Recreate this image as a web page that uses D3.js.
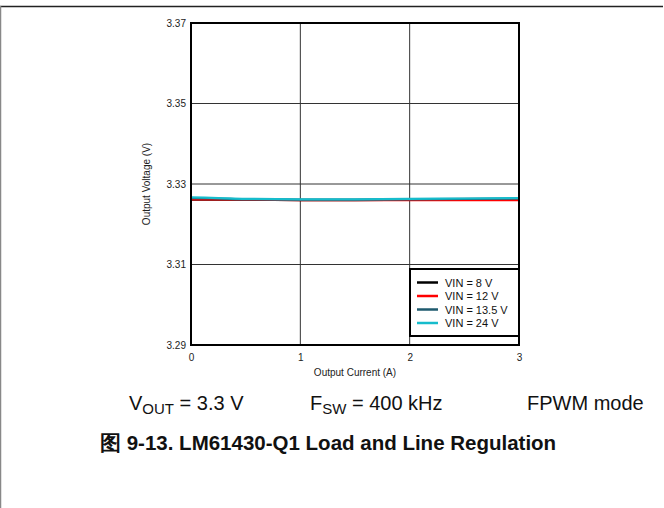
<!DOCTYPE html>
<html><head><meta charset="utf-8">
<script src="https://cdn.jsdelivr.net/npm/d3@7/dist/d3.min.js"></script>
<style>body{margin:0;background:#fff;}svg{display:block;font-family:"Liberation Sans",Arial,sans-serif;}</style>
</head><body>
<script>
const current = [0, 0.25, 0.5, 1, 1.5, 2, 2.5, 3];
const vin8   = [3.3261, 3.3261, 3.3261, 3.3260, 3.3260, 3.3261, 3.3261, 3.3261];
const vin12  = [3.3262, 3.3262, 3.3261, 3.3260, 3.3260, 3.3260, 3.3260, 3.3260];
const vin135 = [3.3265, 3.3264, 3.3262, 3.3261, 3.3261, 3.3262, 3.3263, 3.3264];
const vin24  = [3.3267, 3.3265, 3.3263, 3.3262, 3.3262, 3.3263, 3.3264, 3.3265];
const seriesNames = ["VIN = 8 V", "VIN = 12 V", "VIN = 13.5 V", "VIN = 24 V"];
const seriesColors = ["#000000", "#ff0000", "#1e5a6e", "#16bccc"];
const xTicks = [0, 1, 2, 3];
const yTicks = [3.29, 3.31, 3.33, 3.35, 3.37];

const W = 664, H = 508;
const svg = d3.select("body").append("svg").attr("width", W).attr("height", H);
// page frame
svg.append("line").attr("x1",0).attr("x2",663).attr("y1",6.5).attr("y2",6.5).attr("stroke","#222").attr("stroke-width",1.5);
svg.append("line").attr("x1",0.5).attr("x2",0.5).attr("y1",6).attr("y2",H).attr("stroke","#888").attr("stroke-width",1.5);

const L = 191, R = 519, T = 23, B = 345;
const x = d3.scaleLinear().domain([0,3]).range([L,R]);
const y = d3.scaleLinear().domain([3.29,3.37]).range([B,T]);

// grid
svg.append("g").selectAll("line").data(xTicks.slice(1,-1)).join("line")
  .attr("x1",d=>x(d)).attr("x2",d=>x(d)).attr("y1",T).attr("y2",B).attr("stroke","#333").attr("stroke-width",1);
svg.append("g").selectAll("line").data(yTicks.slice(1,-1)).join("line")
  .attr("x1",L).attr("x2",R).attr("y1",d=>y(d)).attr("y2",d=>y(d)).attr("stroke","#333").attr("stroke-width",1);

// axes labels via d3 axes (no lines)
const xa = svg.append("g").attr("transform",`translate(0,${B})`)
  .call(d3.axisBottom(x).tickValues(xTicks).tickFormat(d3.format("d")).tickSize(0).tickPadding(9));
const ya = svg.append("g").attr("transform",`translate(${L},0)`)
  .call(d3.axisLeft(y).tickValues(yTicks).tickFormat(d3.format(".2f")).tickSize(0).tickPadding(5));
[xa,ya].forEach(g=>{g.select(".domain").remove(); g.selectAll("text").attr("font-size",10).attr("fill","#222").attr("font-family","Liberation Sans, Arial, sans-serif");});

// lines
const allSeries = [vin8, vin12, vin135, vin24];
const line = d3.line().x((d,i)=>x(current[i])).y(d=>y(d)).curve(d3.curveMonotoneX);
allSeries.forEach((s,k)=>{
  svg.append("path").datum(s).attr("d",line).attr("fill","none").attr("stroke",seriesColors[k]).attr("stroke-width",2.2);
});

// plot border
svg.append("rect").attr("x",L).attr("y",T).attr("width",R-L).attr("height",B-T).attr("fill","none").attr("stroke","#000").attr("stroke-width",2);

// legend
const lg = svg.append("g");
lg.append("rect").attr("x",410).attr("y",269).attr("width",R-410).attr("height",67).attr("fill","#fff").attr("stroke","#000").attr("stroke-width",2);
seriesNames.forEach((n,i)=>{
  const yy = 282.5 + i*13.5;
  lg.append("line").attr("x1",417).attr("x2",438).attr("y1",yy).attr("y2",yy).attr("stroke",seriesColors[i]).attr("stroke-width",2.5);
  lg.append("text").attr("x",445).attr("y",yy+4).attr("font-size",11).attr("fill","#111").text(n);
});

// axis titles
svg.append("text").attr("x",(L+R)/2).attr("y",376).attr("text-anchor","middle").attr("font-size",10).attr("fill","#222").text("Output Current (A)");
svg.append("text").attr("transform",`translate(150,${(T+B)/2}) rotate(-90)`).attr("text-anchor","middle").attr("font-size",10).attr("fill","#222").text("Output Voltage (V)");

// conditions
const c = svg.append("g").attr("font-size",20).attr("fill","#111");
const t1 = c.append("text").attr("x",129).attr("y",410);
t1.append("tspan").text("V");
t1.append("tspan").attr("font-size",15).attr("dy",4).text("OUT");
t1.append("tspan").attr("dy",-4).text(" = 3.3 V");
const t2 = c.append("text").attr("x",310).attr("y",410);
t2.append("tspan").text("F");
t2.append("tspan").attr("font-size",15).attr("dy",4).text("SW");
t2.append("tspan").attr("dy",-4).text(" = 400 kHz");
c.append("text").attr("x",527).attr("y",410).text("FPWM mode");

svg.append("text").attr("x",100).attr("y",450).attr("font-size",20.5).attr("font-weight","bold").attr("fill","#111")
  .text("图 9-13. LM61430-Q1 Load and Line Regulation");
</script>
</body></html>
